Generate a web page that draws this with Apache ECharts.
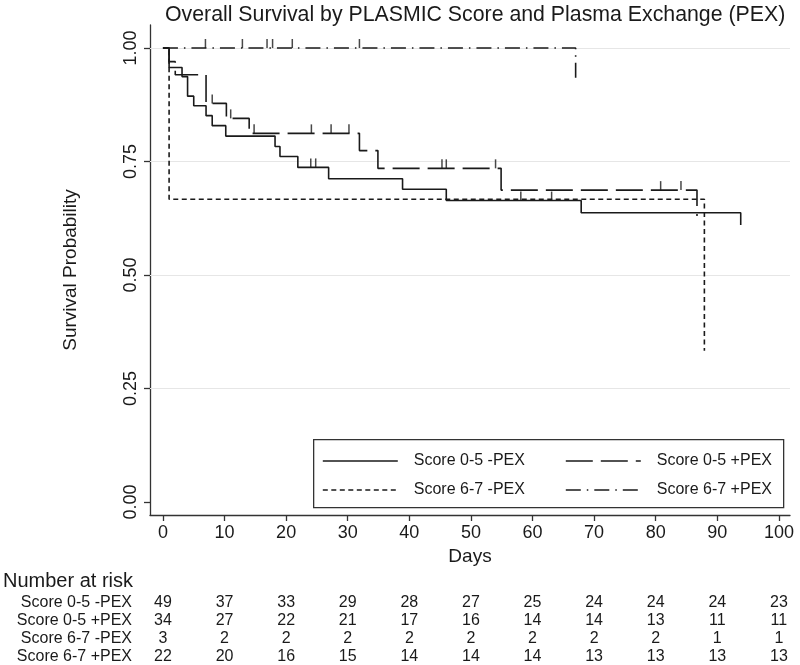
<!DOCTYPE html>
<html><head><meta charset="utf-8">
<script src="https://cdn.jsdelivr.net/npm/echarts@6/dist/echarts.min.js"></script>
<style>html,body{margin:0;padding:0;background:#fff}#c{width:800px;height:665px}</style>
</head><body><div id="c"></div>
<script>
// ---------------- data ----------------
const chartTitle = 'Overall Survival by PLASMIC Score and Plasma Exchange (PEX)';
const groupNames = ['Score 0-5 -PEX', 'Score 0-5 +PEX', 'Score 6-7 -PEX', 'Score 6-7 +PEX'];
const xTicks = [0, 10, 20, 30, 40, 50, 60, 70, 80, 90, 100];
const yTicks = [0, 0.25, 0.5, 0.75, 1];
const yGridValues = [0.25, 0.5, 0.75, 1];

// Kaplan-Meier step points [day, survival]
const km05noPEX = [[0,1],[1,0.957],[3.1,0.937],[4,0.894],[5,0.873],[7,0.851],[8,0.829],[10.2,0.806],[18.2,0.783],[19,0.761],[21.9,0.737],[26.9,0.712],[38.9,0.689],[46,0.664],[67.9,0.637],[93.8,0.610]];
const km05PEX   = [[0,1],[1,0.970],[2,0.941],[7,0.878],[10.3,0.845],[14,0.812],[31.9,0.774],[34.9,0.735],[54.9,0.687],[86.7,0.630]];
const km67noPEX = [[0,1],[1,0.667],[87.9,0.333]];
const km67PEX   = [[0,1],[67,0.923]];

// censoring marks [day, survival]
const cens05noPEX = [[24,0.737],[24.8,0.737],[58.1,0.664],[63.1,0.664]];
const cens05PEX   = [[8,0.878],[11,0.845],[14.8,0.812],[24.1,0.812],[27.3,0.812],[30.2,0.812],[45.3,0.735],[46,0.735],[54,0.735],[80.8,0.687],[84.1,0.687]];
const cens67noPEX = [];
const cens67PEX   = [[6.9,1],[12.9,1],[16.9,1],[17.8,1],[21,1],[31.9,1]];

// number at risk
const riskDays = [0, 10, 20, 30, 40, 50, 60, 70, 80, 90, 100];
const risk05noPEX = [49, 37, 33, 29, 28, 27, 25, 24, 24, 24, 23];
const risk05PEX   = [34, 27, 22, 21, 17, 16, 14, 14, 13, 11, 11];
const risk67noPEX = [3, 2, 2, 2, 2, 2, 2, 2, 2, 1, 1];
const risk67PEX   = [22, 20, 16, 15, 14, 14, 14, 13, 13, 13, 13];

// ---------------- chart ----------------
const FONT = 'Liberation Sans, Arial, Helvetica, sans-serif';
const INK = '#1a1a1a';
const X_MIN = -2.1, X_MAX = 101.8;
const Y_MIN = -0.0286, Y_MAX = 1.0507;

const kmSets = [km05noPEX, km05PEX, km67noPEX, km67PEX];
const censSets = [cens05noPEX, cens05PEX, cens67noPEX, cens67PEX];
const riskSets = [risk05noPEX, risk05PEX, risk67noPEX, risk67PEX];
const dashes = ['solid', [27, 8], [5, 3.5], [15, 6, 1.5, 6]];

const series = [];
kmSets.forEach((d, i) => {
  series.push({
    name: groupNames[i], type: 'line', step: 'end', data: d,
    xAxisIndex: 0, yAxisIndex: 0,
    symbol: 'none', z: 5,
    lineStyle: { color: INK, width: 1.6, type: dashes[i] },
    itemStyle: { color: INK },
    animation: false
  });
});
censSets.forEach((d, i) => {
  if (!d.length) return;
  series.push({
    name: groupNames[i] + ' censored', type: 'scatter', data: d,
    xAxisIndex: 0, yAxisIndex: 0,
    symbol: 'rect', symbolSize: [1.5, 9], symbolOffset: [0, -4.5],
    itemStyle: { color: INK }, z: 5, animation: false, silent: true
  });
});
// grid lines
series.push({
  type: 'line', data: [], xAxisIndex: 0, yAxisIndex: 0, silent: true, z: 1,
  markLine: {
    symbol: 'none', silent: true, animation: false,
    label: { show: false },
    lineStyle: { color: '#e6e6e6', width: 1, type: 'solid' },
    data: yGridValues.map(v => ({ yAxis: v }))
  }
});
// number-at-risk table
const riskData = [];
riskSets.forEach((row, r) => row.forEach((v, i) => riskData.push([riskDays[i], r, v])));
series.push({
  type: 'custom', xAxisIndex: 1, yAxisIndex: 1, data: riskData, animation: false, silent: true,
  renderItem: function (params, api) {
    const p = api.coord([api.value(0), api.value(1)]);
    return {
      type: 'text', x: p[0], y: p[1],
      style: { text: String(api.value(2)), align: 'center', verticalAlign: 'middle',
               fontSize: 16, fontFamily: FONT, fill: INK }
    };
  }
});

const legendCommon = {
  orient: 'vertical', itemWidth: 75, itemHeight: 10, itemGap: 13, padding: 0,
  selectedMode: false,
  itemStyle: { color: 'transparent', borderWidth: 0, opacity: 0 },
  lineStyle: { width: 1.6 },
  textStyle: { fontSize: 16, fontFamily: FONT, color: INK, lineHeight: 16, padding: [0, 0, 0, 11] }
};

const option = {
  backgroundColor: '#fff',
  animation: false,
  title: {
    text: chartTitle, left: 160, top: 0,
    textStyle: { fontSize: 21.3, fontWeight: 'normal', fontFamily: FONT, color: INK }
  },
  legend: [
    Object.assign({}, legendCommon, { left: 322, top: 453, data: [groupNames[0], groupNames[2]] }),
    Object.assign({}, legendCommon, { left: 565, top: 453, data: [groupNames[1], groupNames[3]] })
  ],
  grid: [
    { left: 150, right: 10, top: 25, bottom: 150 },
    { left: 150, right: 10, top: 594, height: 74 }
  ],
  xAxis: [
    {
      type: 'value', gridIndex: 0, min: X_MIN, max: X_MAX,
      name: 'Days', nameLocation: 'middle', nameGap: 30,
      nameTextStyle: { fontSize: 19, fontFamily: FONT, color: INK },
      axisLine: { show: true, onZero: false, lineStyle: { color: '#333', width: 1.3 } },
      axisTick: { show: true, length: 6, customValues: xTicks, lineStyle: { color: '#333', width: 1.3 } },
      axisLabel: { customValues: xTicks, fontSize: 18, fontFamily: FONT, color: INK, margin: 9 },
      splitLine: { show: false }
    },
    { type: 'value', gridIndex: 1, min: X_MIN, max: X_MAX, show: false }
  ],
  yAxis: [
    {
      type: 'value', gridIndex: 0, min: Y_MIN, max: Y_MAX,
      name: 'Survival Probability', nameLocation: 'middle', nameGap: 70,
      nameTextStyle: { fontSize: 19, fontFamily: FONT, color: INK },
      axisLine: { show: true, onZero: false, lineStyle: { color: '#333', width: 1.3 } },
      axisTick: { show: true, length: 6, customValues: yTicks, lineStyle: { color: '#333', width: 1.3 } },
      axisLabel: { customValues: yTicks, rotate: 90, fontSize: 18, fontFamily: FONT, color: INK, margin: 10,
                   formatter: v => Number(v).toFixed(2) },
      splitLine: { show: false }
    },
    {
      type: 'category', gridIndex: 1, inverse: true, data: groupNames,
      axisLine: { show: false }, axisTick: { show: false }, splitLine: { show: false },
      axisLabel: { interval: 0, fontSize: 16, fontFamily: FONT, color: INK, margin: 18 }
    }
  ],
  graphic: [
    { type: 'rect', left: 313, top: 439, z: 3,
      shape: { width: 470, height: 68 },
      style: { fill: '#fff', stroke: '#333', lineWidth: 1.3 } },
    { type: 'text', left: 3, top: 571, z: 3,
      style: { text: 'Number at risk', fontSize: 20, fontFamily: FONT, fill: INK } }
  ],
  series: series
};

const chart = echarts.init(document.getElementById('c'), null, { renderer: 'canvas' });
chart.setOption(option);
</script>
</body></html>
